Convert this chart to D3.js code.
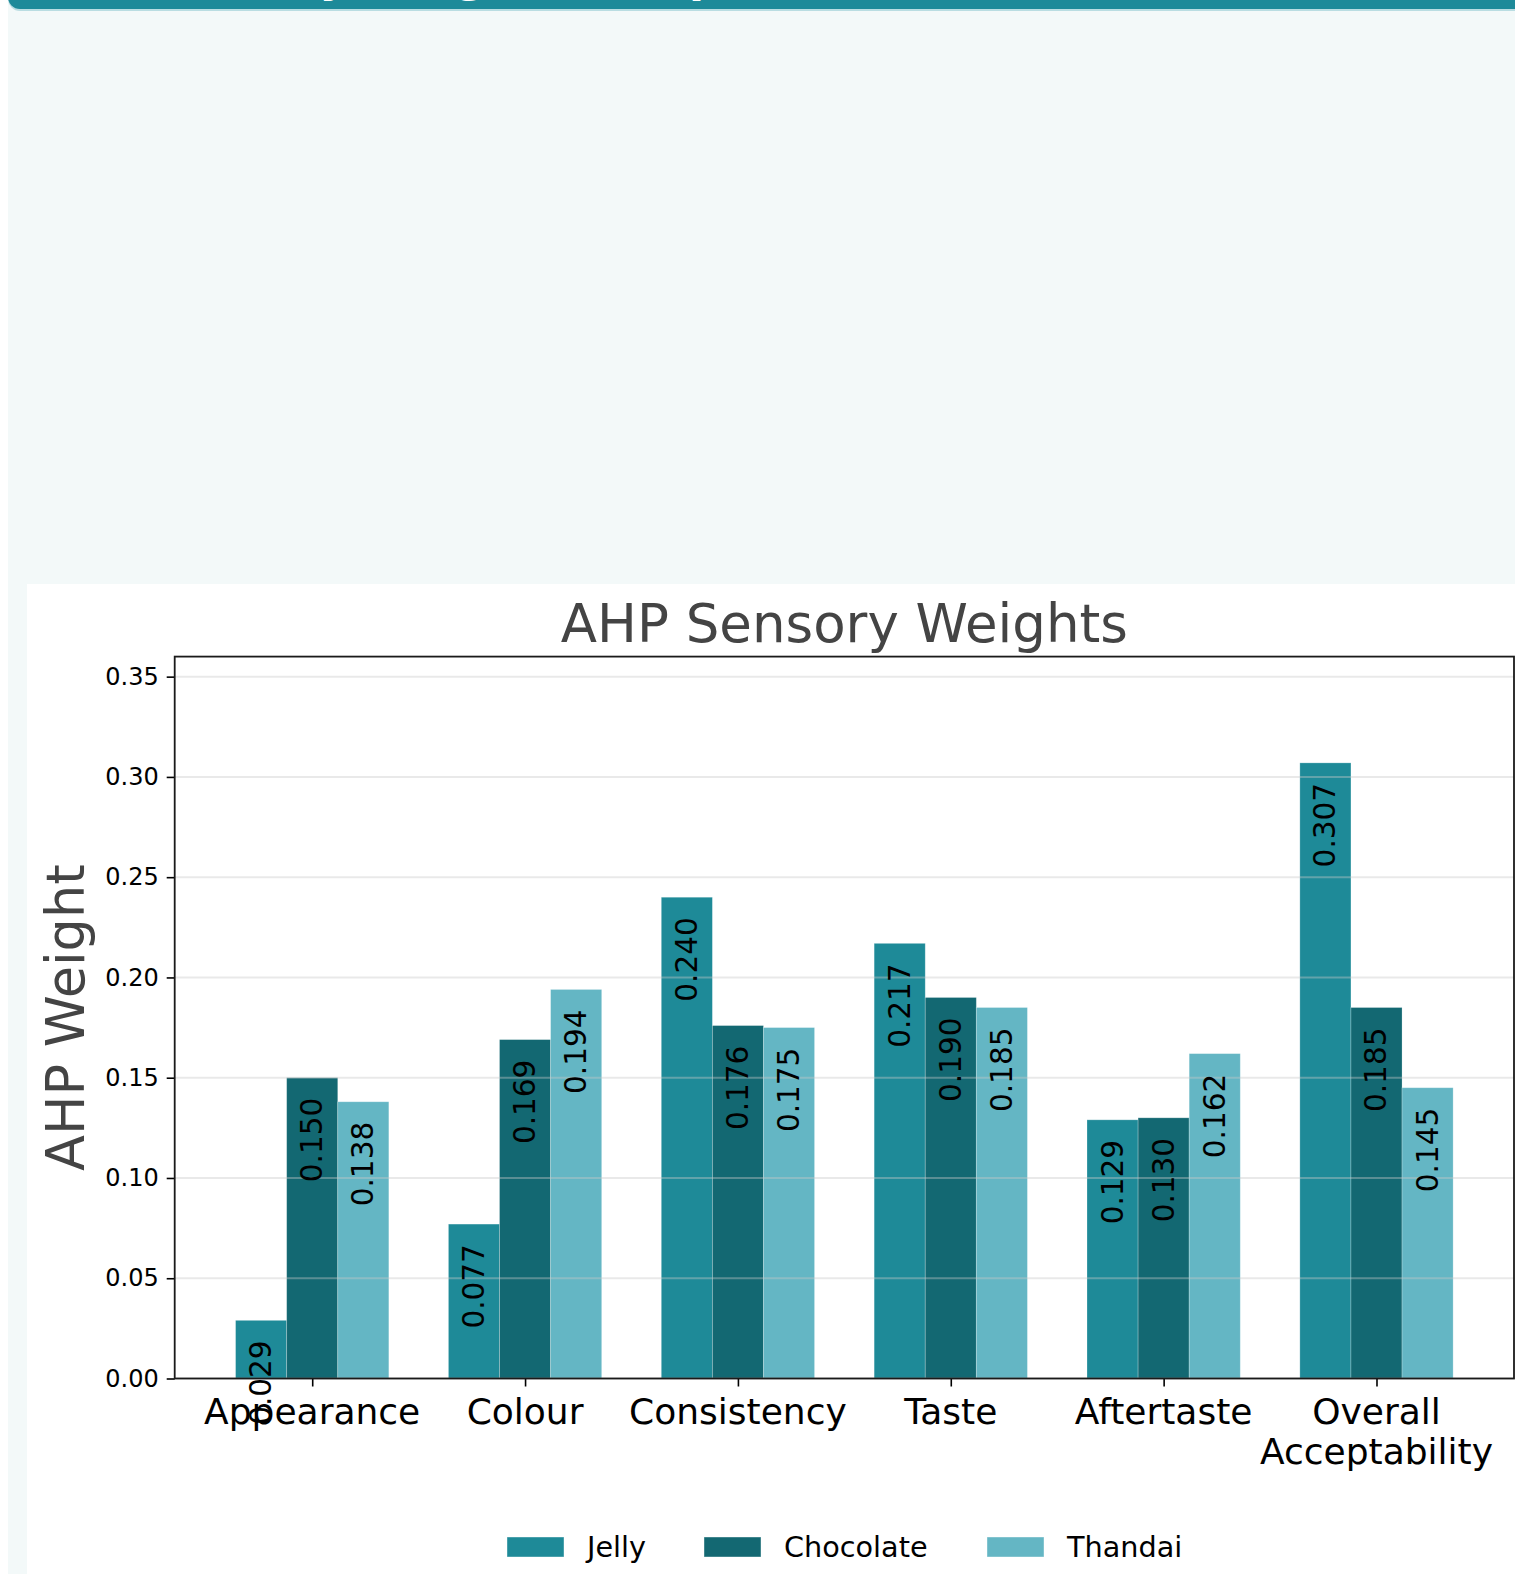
<!DOCTYPE html>
<html>
<head>
<meta charset="utf-8">
<script src="https://cdn.jsdelivr.net/npm/d3@7/dist/d3.min.js"></script>
<style>
  html, body { margin: 0; padding: 0; background: #ffffff; overflow: hidden; }
  body { width: 1515px; height: 1574px; position: relative; font-family: "DejaVu Sans", sans-serif; }
  #page { position: absolute; left: 8px; top: 0; right: 0; bottom: 0; background: #f3f9f9; }
  #header {
    position: absolute; left: 8px; top: -70px; width: 1600px; height: 79px;
    background: #1d8a99; border-radius: 0 0 0 12px;
    box-shadow: 0 2px 0 #b9dde2; overflow: hidden;
  }
  #header h1 {
    position: absolute; left: 22px; top: 25px; margin: 0; line-height: 44px;
    font: bold 44px "DejaVu Sans", sans-serif; color: #ffffff; white-space: nowrap;
  }
  #panel { position: absolute; left: 27px; top: 584px; right: 0; bottom: 0; background: #ffffff; }
  svg { position: absolute; left: 0; top: 0; }
</style>
</head>
<body>
<div id="page"></div>
<div id="header"><h1 style="line-height:44px">AHP Sensory Weights Comparison</h1></div>
<div id="panel"></div>
<svg id="chart" width="1515" height="1574"></svg>
<script>
// Sensory attributes and AHP weights per product
const categories = ["Appearance", "Colour", "Consistency", "Taste", "Aftertaste", "Overall\nAcceptability"];
const seriesNames = ["Jelly", "Chocolate", "Thandai"];
const jelly     = [0.029, 0.077, 0.240, 0.217, 0.129, 0.307];
const chocolate = [0.150, 0.169, 0.176, 0.190, 0.130, 0.185];
const thandai   = [0.138, 0.194, 0.175, 0.185, 0.162, 0.145];
const yTicks    = [0.00, 0.05, 0.10, 0.15, 0.20, 0.25, 0.30, 0.35];
const colors    = ["#1e8a98", "#136872", "#64b6c4"];

const series = [jelly, chocolate, thandai];
const barWidth = 0.24;
const offsets = [-barWidth, 0, barWidth];

const svg = d3.select("#chart");
const plot = { left: 174.7, right: 1514, top: 656.6, bottom: 1378.5 };

// x in category-index units, padded like a default margin around the bars
const xMin = -barWidth * 1.5, xMax = categories.length - 1 + barWidth * 1.5;
const pad = (xMax - xMin) * 0.05;
const x = d3.scaleLinear().domain([xMin - pad, xMax + pad]).range([plot.left, plot.right]);
const y = d3.scaleLinear().domain([0, 0.36]).range([plot.bottom, plot.top]);

// bars
series.forEach((vals, si) => {
  svg.append("g").selectAll("rect")
    .data(vals)
    .join("rect")
    .attr("x", (d, i) => x(i + offsets[si] - barWidth / 2))
    .attr("width", x(barWidth) - x(0))
    .attr("y", d => y(d))
    .attr("height", d => y(0) - y(d))
    .attr("fill", colors[si])
    .attr("stroke", "#ffffff")
    .attr("stroke-opacity", 0.3)
    .attr("stroke-width", 0.8);
});

// horizontal grid drawn over the bars
svg.append("g").selectAll("line")
  .data(yTicks)
  .join("line")
  .attr("x1", plot.left).attr("x2", plot.right)
  .attr("y1", d => y(d)).attr("y2", d => y(d))
  .attr("stroke", "#c8c8c8").attr("stroke-opacity", 0.4).attr("stroke-width", 2);

// y axis ticks and labels
const yAxis = d3.axisLeft(y).tickValues(yTicks).tickFormat(d3.format(".2f")).tickSize(8).tickPadding(8);
const gy = svg.append("g").attr("transform", `translate(${plot.left},0)`).call(yAxis);
gy.select(".domain").remove();
gy.selectAll(".tick line").attr("stroke", "#000").attr("stroke-width", 1.6);
gy.selectAll(".tick text").attr("font-size", 24).attr("font-family", "DejaVu Sans").attr("fill", "#000");

// x axis ticks
const xAxis = d3.axisBottom(x).tickValues(d3.range(categories.length)).tickSize(8).tickFormat("");
const gx = svg.append("g").attr("transform", `translate(0,${plot.bottom})`).call(xAxis);
gx.select(".domain").remove();
gx.selectAll(".tick line").attr("stroke", "#000").attr("stroke-width", 1.6);

// category labels (multi-line where needed)
const catLabels = svg.append("g").selectAll("text")
  .data(categories)
  .join("text")
  .attr("x", (d, i) => x(i))
  .attr("y", plot.bottom + 45)
  .attr("text-anchor", "middle")
  .attr("font-size", 36)
  .attr("font-family", "DejaVu Sans")
  .attr("fill", "#000");
catLabels.each(function (d, i) {
  d.split("\n").forEach((line, li) => {
    d3.select(this).append("tspan")
      .attr("x", x(i))
      .attr("dy", li === 0 ? 0 : 40)
      .text(line);
  });
});

// frame
svg.append("rect")
  .attr("x", plot.left).attr("y", plot.top)
  .attr("width", plot.right - plot.left).attr("height", plot.bottom - plot.top)
  .attr("fill", "none").attr("stroke", "#1a1a1a").attr("stroke-width", 1.8);

// value labels inside the bars, rotated
series.forEach((vals, si) => {
  svg.append("g").selectAll("text")
    .data(vals)
    .join("text")
    .attr("transform", (d, i) => `translate(${x(i + offsets[si])},${y(d - 0.01)}) rotate(-90)`)
    .attr("text-anchor", "end")
    .attr("dominant-baseline", "central")
    .attr("font-size", 29.5)
    .attr("font-family", "DejaVu Sans")
    .attr("fill", "#000")
    .text(d => d.toFixed(3));
});

// title and y label
svg.append("text")
  .attr("x", (plot.left + plot.right) / 2).attr("y", 641.5)
  .attr("text-anchor", "middle")
  .attr("font-size", 53).attr("font-family", "DejaVu Sans").attr("fill", "#444")
  .text("AHP Sensory Weights");

svg.append("text")
  .attr("transform", `translate(83.5,${(plot.top + plot.bottom) / 2}) rotate(-90)`)
  .attr("text-anchor", "middle")
  .attr("font-size", 52.5).attr("font-family", "DejaVu Sans").attr("fill", "#444")
  .text("AHP Weight");

// legend
const legendItems = [
  { name: seriesNames[0], color: colors[0], px: 507 },
  { name: seriesNames[1], color: colors[1], px: 704 },
  { name: seriesNames[2], color: colors[2], px: 987 }
];
const lg = svg.append("g");
legendItems.forEach(it => {
  lg.append("rect")
    .attr("x", it.px).attr("y", 1537).attr("width", 57).attr("height", 20)
    .attr("fill", it.color).attr("stroke", "#ffffff").attr("stroke-opacity", 0.5).attr("stroke-width", 0.8);
  lg.append("text")
    .attr("x", it.px + 80).attr("y", 1557)
    .attr("font-size", 28.7).attr("font-family", "DejaVu Sans").attr("fill", "#000")
    .text(it.name);
});
</script>
</body>
</html>
